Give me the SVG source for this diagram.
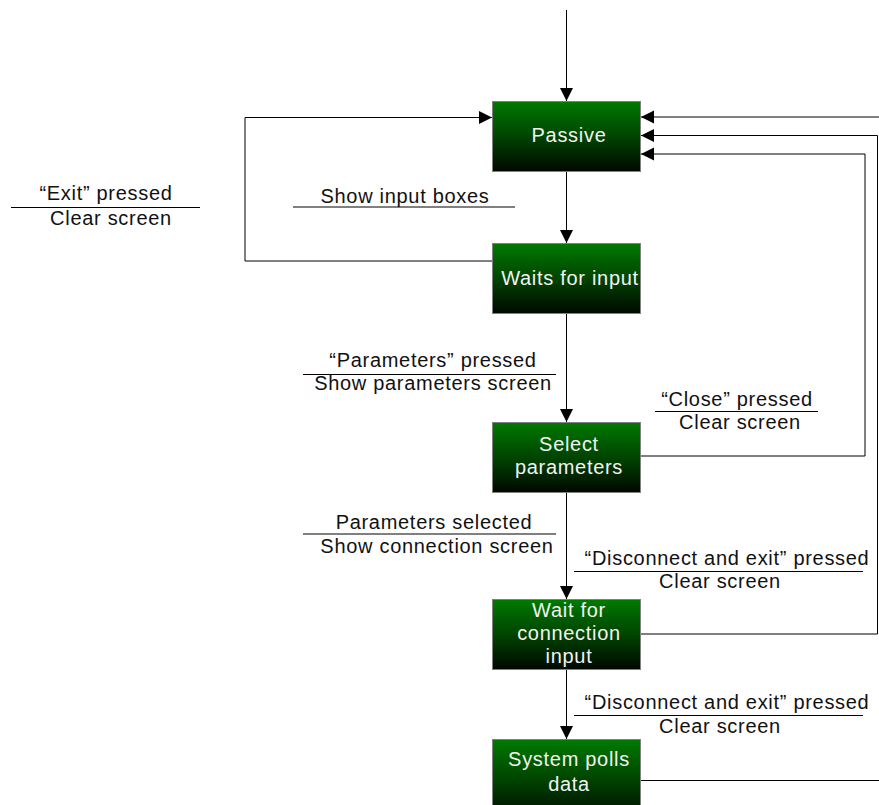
<svg xmlns="http://www.w3.org/2000/svg" width="879" height="805" viewBox="0 0 879 805">
  <defs>
    <linearGradient id="stateFill" x1="0" y1="0" x2="0" y2="1">
      <stop offset="0" stop-color="#007a00"/>
      <stop offset="0.5" stop-color="#004400"/>
      <stop offset="1" stop-color="#000800"/>
    </linearGradient>
    <marker id="arrow" markerUnits="userSpaceOnUse" markerWidth="14" markerHeight="14" refX="13" refY="7" orient="auto">
      <path d="M0,0.5 L13,7 L0,13.5 Z" fill="#000"/>
    </marker>
  </defs>
  <style>
    .state rect { fill: url(#stateFill); stroke: #808080; stroke-width: 1; }
    .state text { font-family: "Liberation Sans", Arial, sans-serif; font-size: 20px; letter-spacing: 0.7px; fill: #f2f2f2; text-anchor: middle; }
    .edge { fill: none; stroke: #000; stroke-width: 1; }
    .guard { fill: none; stroke: #000; stroke-width: 1; }
    .lbl { font-family: "Liberation Sans", Arial, sans-serif; font-size: 20px; letter-spacing: 0.7px; fill: #111; text-anchor: middle; }
  </style>

  <rect width="879" height="805" fill="#fff"/>

  <!-- transitions -->
  <g id="connectors">
    <path class="edge" d="M566.5,10 V101" marker-end="url(#arrow)"/>
    <path class="edge" d="M566.5,171 V243" marker-end="url(#arrow)"/>
    <path class="edge" d="M492,261 H245 V117.5 H492" marker-end="url(#arrow)"/>
    <path class="edge" d="M566.5,314 V422" marker-end="url(#arrow)"/>
    <path class="edge" d="M566.5,492 V599" marker-end="url(#arrow)"/>
    <path class="edge" d="M566.5,670 V739" marker-end="url(#arrow)"/>
    <path class="edge" d="M641,456 H865 V154 H641" marker-end="url(#arrow)"/>
    <path class="edge" d="M641,634 H877.5 V135.5 H641" marker-end="url(#arrow)"/>
    <path class="edge" d="M641,780.5 H895 V117 H641" marker-end="url(#arrow)"/>

    <g id="label-exit">
      <text class="lbl" x="106" y="200">“Exit” pressed</text>
      <line class="guard" x1="11" y1="207.5" x2="200" y2="207.5"/>
      <text class="lbl" x="111" y="225">Clear screen</text>
    </g>
    <g id="label-show-input">
      <text class="lbl" x="405" y="203">Show input boxes</text>
      <line class="guard" x1="293" y1="207" x2="515" y2="207"/>
    </g>
    <g id="label-parameters">
      <text class="lbl" x="433" y="367">“Parameters” pressed</text>
      <line class="guard" x1="303" y1="374.5" x2="556" y2="374.5"/>
      <text class="lbl" x="433" y="390">Show parameters screen</text>
    </g>
    <g id="label-close">
      <text class="lbl" x="737" y="406">“Close” pressed</text>
      <line class="guard" x1="655" y1="411.5" x2="818" y2="411.5"/>
      <text class="lbl" x="740" y="429">Clear screen</text>
    </g>
    <g id="label-selected">
      <text class="lbl" x="434" y="529">Parameters selected</text>
      <line class="guard" x1="303" y1="534" x2="556" y2="534"/>
      <text class="lbl" x="437" y="553">Show connection screen</text>
    </g>
    <g id="label-disconnect-1">
      <text class="lbl" x="727" y="565">“Disconnect and exit” pressed</text>
      <line class="guard" x1="574" y1="571.5" x2="863" y2="571.5"/>
      <text class="lbl" x="720" y="588">Clear screen</text>
    </g>
    <g id="label-disconnect-2">
      <text class="lbl" x="727" y="709">“Disconnect and exit” pressed</text>
      <line class="guard" x1="574" y1="715.5" x2="863" y2="715.5"/>
      <text class="lbl" x="720" y="733">Clear screen</text>
    </g>
  </g>

  <!-- states -->
  <g id="passive" class="state">
    <rect x="492.5" y="101.5" width="148" height="70"/>
    <text x="569" y="142">Passive</text>
  </g>
  <g id="waits-for-input" class="state">
    <rect x="492.5" y="243.5" width="148" height="70"/>
    <text x="570" y="285">Waits for input</text>
  </g>
  <g id="select-parameters" class="state">
    <rect x="492.5" y="422.5" width="148" height="70"/>
    <text x="569" y="451">Select</text>
    <text x="569" y="474">parameters</text>
  </g>
  <g id="wait-for-connection" class="state">
    <rect x="492.5" y="599.5" width="148" height="70"/>
    <text x="569" y="617">Wait for</text>
    <text x="569" y="640">connection</text>
    <text x="569" y="663">input</text>
  </g>
  <g id="system-polls-data" class="state">
    <rect x="492.5" y="739.5" width="148" height="80"/>
    <text x="569" y="766">System polls</text>
    <text x="569" y="791">data</text>
  </g>
</svg>
